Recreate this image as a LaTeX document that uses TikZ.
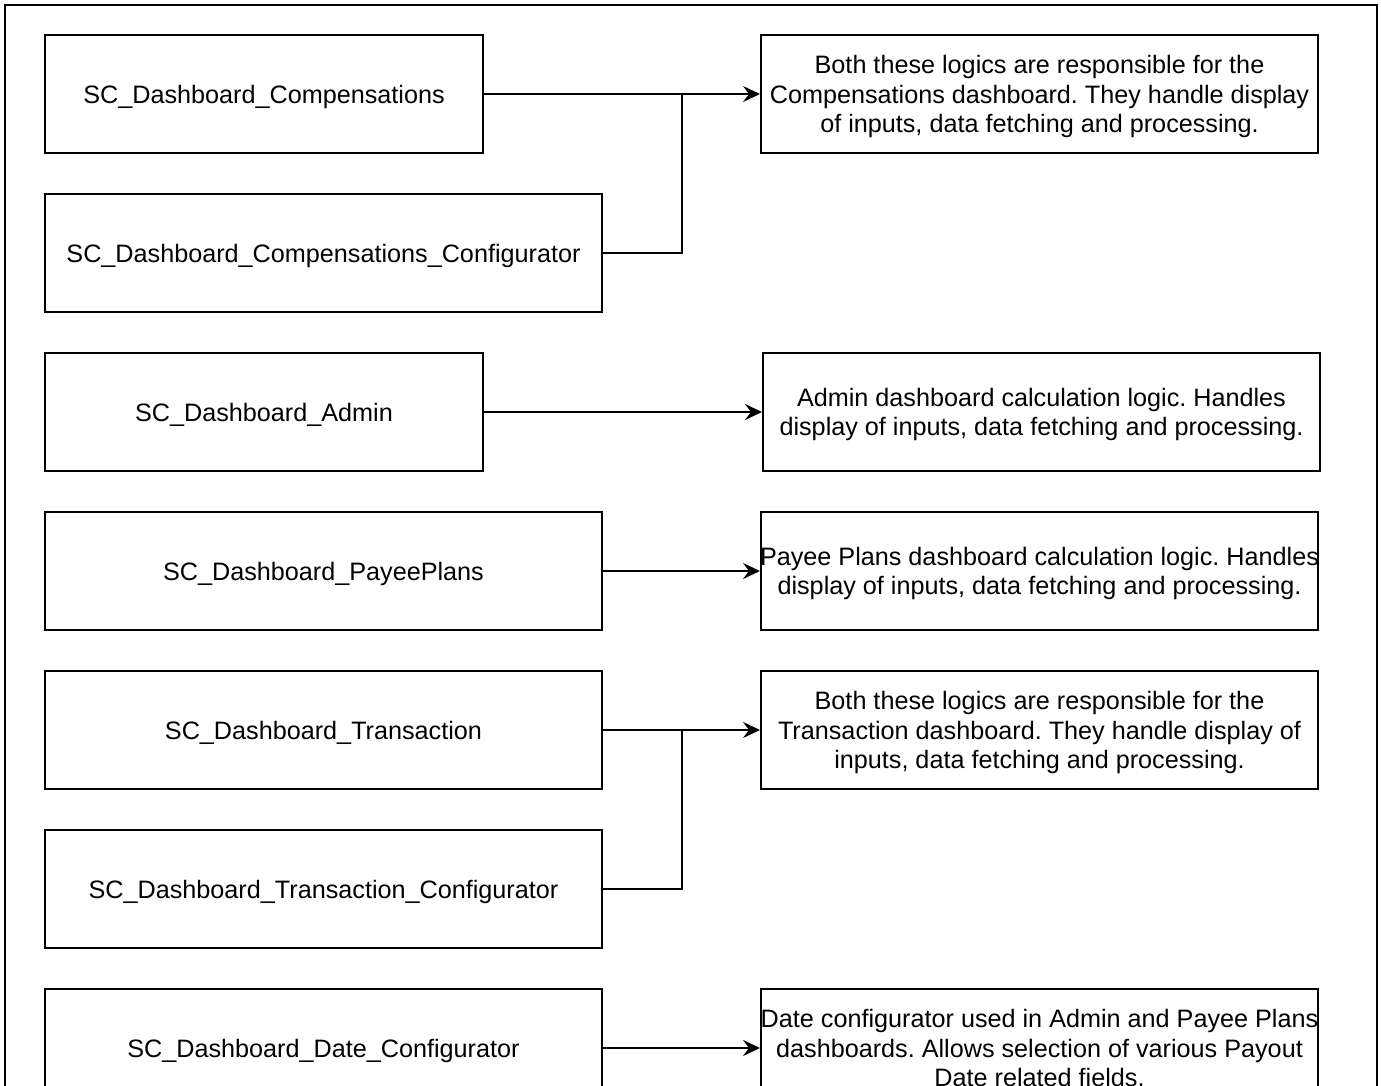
\documentclass[tikz,border=0pt]{standalone}
\usepackage{fontspec}
\setmainfont{Liberation Sans}
\frenchspacing
\usetikzlibrary{arrows.meta}
\tikzset{
  lgc/.style={draw,line width=1pt,minimum width=219pt,minimum height=59pt,inner sep=0pt,text depth=0pt,font=\fontsize{12.6}{14.6}\selectfont},
  lgcw/.style={lgc,minimum width=278.5pt},
  note/.style={lgcw,align=center,inner xsep=-2pt},
  ln/.style={line width=1pt},
  arr/.style={ln,-{Stealth[length=8.5pt,width=8pt,inset=3pt]}},
  frm/.style={line width=1pt}
}
\begin{document}
\begin{tikzpicture}[x=0.5pt,y=-0.5pt]
\useasboundingbox (0,0) rectangle (1381,1086);
\clip (0,0) rectangle (1381,1086);
\draw[frm] (5,1120) -- (5,5) -- (1377,5) -- (1377,1120);
\node[lgc] (cmp) at (264,94) {SC\_Dashboard\_Compensations};
\node[lgcw] (cmpcfg) at (323.5,253) {SC\_Dashboard\_Compensations\_Configurator};
\node[lgc] (adm) at (264,412) {SC\_Dashboard\_Admin};
\node[lgcw] (pay) at (323.5,571) {SC\_Dashboard\_PayeePlans};
\node[lgcw] (trn) at (323.5,730) {SC\_Dashboard\_Transaction};
\node[lgcw] (trncfg) at (323.5,889) {SC\_Dashboard\_Transaction\_Configurator};
\node[lgcw] (dat) at (323.5,1048) {SC\_Dashboard\_Date\_Configurator};
\node[note] (dcmp) at (1039.5,94) {Both these logics are responsible for the\\Compensations dashboard. They handle display\\of inputs, data fetching and processing.};
\node[note] (dadm) at (1041.5,412) {Admin dashboard calculation logic. Handles\\display of inputs, data fetching and processing.};
\node[note] (dpay) at (1039.5,571) {Payee Plans dashboard calculation logic. Handles\\display of inputs, data fetching and processing.};
\node[note] (dtrn) at (1039.5,730) {Both these logics are responsible for the\\Transaction dashboard. They handle display of\\inputs, data fetching and processing.};
\node[note] (ddat) at (1039.5,1048) {Date configurator used in Admin and Payee Plans\\dashboards. Allows selection of various Payout\\Date related fields.};
\coordinate (jcmp) at (682,94);
\coordinate (jtrn) at (682,730);
\draw[arr] (cmp.east) -- (dcmp.west);
\draw[ln] (cmpcfg.east) -| (jcmp);
\draw[arr] (adm.east) -- (dadm.west);
\draw[arr] (pay.east) -- (dpay.west);
\draw[arr] (trn.east) -- (dtrn.west);
\draw[ln] (trncfg.east) -| (jtrn);
\draw[arr] (dat.east) -- (ddat.west);
\end{tikzpicture}
\end{document}
